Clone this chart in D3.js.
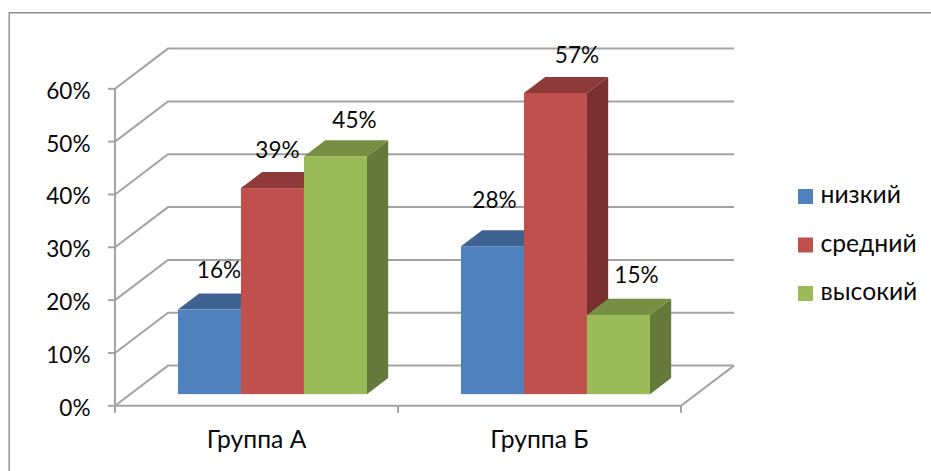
<!DOCTYPE html>
<html><head><meta charset="utf-8">
<script src="https://cdn.jsdelivr.net/npm/d3@7"></script>
<style>html,body{margin:0;padding:0;background:#fff}svg{display:block}text{font-family:Lato,"Noto Sans",sans-serif;fill:#0a0a0a}</style>
</head><body><svg id="c" width="931" height="471"></svg>
<script>
const categories=["Группа А","Группа Б"];
const seriesNames=["низкий","средний","высокий"];
const low=[0.16,0.28];
const mid=[0.39,0.57];
const high=[0.45,0.15];
const yTicks=[0,0.1,0.2,0.3,0.4,0.5,0.6];
const frontColors=["#4f81bd","#c0504d","#9bbb59"];
const topColors=["#3e6392","#8e3a38","#778f43"];
const sideColors=["#35547b","#7a302e","#65793a"];
const values=[low,mid,high];

const svg=d3.select("#c");
const fmt=d3.format(".0%");
const y=d3.scaleLinear().domain([0,0.6]).range([405.8,88.8]);
const x=d3.scaleBand().domain(categories).range([115,681]);
const sub=d3.scaleBand().domain(seriesNames).range([0,189]);
const depthX=d3.scaleLinear().domain([0,1]).range([0,53]);
const depthY=d3.scaleLinear().domain([0,1]).range([0,-40.2]);
const barFront=0.29,barBack=0.69;
const pad=(x.bandwidth()-189)/2;
const line=d3.line();

const frame=svg.append("g").attr("fill","none").attr("stroke","#8c8c8c").attr("stroke-width",1.4);
frame.append("path").attr("d",line([[9.2,471],[9.2,12.8],[931,12.8]]));

const g=svg.append("g").attr("fill","none").attr("stroke","#a3a3a3").attr("stroke-width",2);
yTicks.forEach(t=>{
 g.append("path").attr("d",line([[x.range()[0],y(t)],[x.range()[0]+depthX(1),y(t)+depthY(1)],[x.range()[1]+depthX(1),y(t)+depthY(1)]]));
 g.append("path").attr("d",line([[x.range()[0]-7,y(t)],[x.range()[0],y(t)]]));
});
g.append("path").attr("d",line([[x.range()[0],y(0.6)],[x.range()[0],y(0)+7]]));
g.append("path").attr("d",line([[x.range()[0],y(0)],[x.range()[1],y(0)],[x.range()[1]+depthX(1),y(0)+depthY(1)]]));
categories.forEach(c=>{const p=x(c)+x.bandwidth();g.append("path").attr("d",line([[p,y(0)],[p,y(0)+7]]));});

svg.selectAll("text.yl").data(yTicks).join("text").attr("class","yl")
 .attr("x",90.5).attr("y",d=>y(d)).attr("dy","0.44em").attr("text-anchor","end").attr("font-size",22.6).text(fmt);
svg.selectAll("text.xl").data(categories).join("text").attr("class","xl")
 .attr("x",d=>x(d)+x.bandwidth()/2).attr("y",448).attr("text-anchor","middle").attr("font-size",24.7).text(d=>d);

const fx=depthX(barFront),fy=depthY(barFront),bx=depthX(barBack)-fx,by=depthY(barBack)-fy;
const bars=svg.append("g");
categories.forEach(c=>{
 const base=x(c)+pad+fx+0.6;
 seriesNames.forEach((s,si)=>{
  const v=values[si][categories.indexOf(c)];
  const x0=base+sub(s),w=sub.bandwidth(),y1=y(0)+fy,y2=y(v)+fy;
  bars.append("path").attr("fill",sideColors[si]).attr("d",line([[x0+w,y1],[x0+w+bx,y1+by],[x0+w+bx,y2+by],[x0+w,y2]])+"Z");
  bars.append("path").attr("fill",topColors[si]).attr("d",line([[x0,y2],[x0+bx,y2+by],[x0+w+bx,y2+by],[x0+w,y2]])+"Z");
  bars.append("rect").attr("x",x0).attr("y",y2).attr("width",w).attr("height",y1-y2).attr("fill",frontColors[si]);
 });
});
const labelDx=[[9.5,5,19],[2,21.5,18]];
const labelDy=[[-32,-30,-28],[-38,-30,-32]];
categories.forEach((c,ci)=>seriesNames.forEach((s,si)=>{
 const v=values[si][ci];
 svg.append("text").attr("x",x(c)+pad+fx+0.6+sub(s)+sub.bandwidth()/2+labelDx[ci][si])
  .attr("y",y(v)+fy+labelDy[ci][si]).attr("text-anchor","middle").attr("font-size",22.6).text(fmt(v));
}));

const legY=d3.scalePoint().domain(seriesNames).range([196.5,293.5]);
seriesNames.forEach((s,i)=>{
 svg.append("rect").attr("x",798).attr("y",legY(s)-7.5).attr("width",15).attr("height",15).attr("fill",frontColors[i]);
 svg.append("text").attr("x",820.5).attr("y",legY(s)).attr("dy","0.27em").attr("font-size",24.7).text(s);
});
</script></body></html>
